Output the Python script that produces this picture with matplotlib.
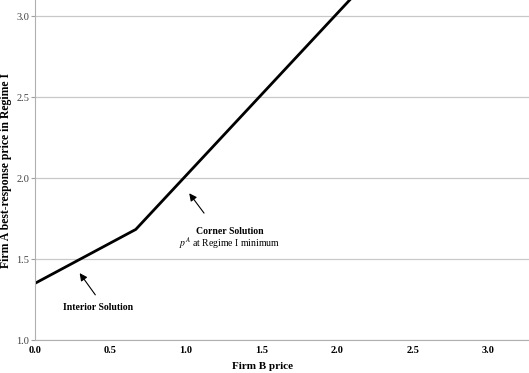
import numpy as np
import matplotlib.pyplot as plt

# best-response curve: interior part, then corner part
price_b = [0.0, 0.667, 2.2]
price_a = [1.35, 1.683, 3.217]

x_ticks = [0.0, 0.5, 1.0, 1.5, 2.0, 2.5, 3.0]
y_ticks = [1.0, 1.5, 2.0, 2.5, 3.0]

plt.rcParams['font.family'] = ['Liberation Serif', 'DejaVu Serif']
plt.rcParams['mathtext.fontset'] = 'stix'

fig = plt.figure(figsize=(5.29, 3.73), dpi=100)
ax = fig.add_axes([35 / 529, 33 / 373, 494 / 529, 340 / 373])

ax.plot(price_b, price_a, color='black', lw=2.0, solid_capstyle='butt')

ax.set_xlim(0, 3.27)
ax.set_ylim(1.0, 3.1)
ax.set_xticks(x_ticks)
ax.set_yticks(y_ticks)
ax.set_xticklabels(['%.1f' % v for v in x_ticks])
ax.set_yticklabels(['%.1f' % v for v in y_ticks])
ax.tick_params(axis='both', labelsize=7.5, colors='#404040', length=0, pad=4)
ax.tick_params(axis='y', length=3, color='#a0a0a0', pad=1)
ax.tick_params(axis='x', labelcolor='black')
for t in ax.get_xticklabels():
    t.set_fontweight('bold')

ax.grid(axis='y', color='#c8c8c8', lw=0.9)
ax.set_axisbelow(True)
for s in ['top', 'right']:
    ax.spines[s].set_visible(False)
ax.spines['left'].set_color('#b0b0b0')
ax.spines['bottom'].set_color('#b0b0b0')

ax.set_xlabel('Firm B price', fontsize=8, fontweight='bold')
ax.xaxis.set_label_coords(0.46, -0.065)
ax.set_ylabel('Firm A best-response price in Regime I', fontsize=8.5, fontweight='bold')
ax.yaxis.set_label_coords(-0.047, 0.5)

arrow = dict(arrowstyle='-|>', color='black', lw=0.8, mutation_scale=11)
ax.annotate('', xy=(0.285, 1.427), xytext=(0.41, 1.265), arrowprops=arrow)
ax.text(0.42, 1.2, 'Interior Solution', fontsize=7, fontweight='bold',
        ha='center', va='center')

ax.annotate('', xy=(1.01, 1.92), xytext=(1.13, 1.77), arrowprops=arrow)
ax.text(1.29, 1.67, 'Corner Solution', fontsize=7, fontweight='bold',
        ha='center', va='center')
ax.text(1.29, 1.6, r'$p^A$ at Regime I minimum', fontsize=7,
        ha='center', va='center')

fig.savefig('out.png', dpi=100)
